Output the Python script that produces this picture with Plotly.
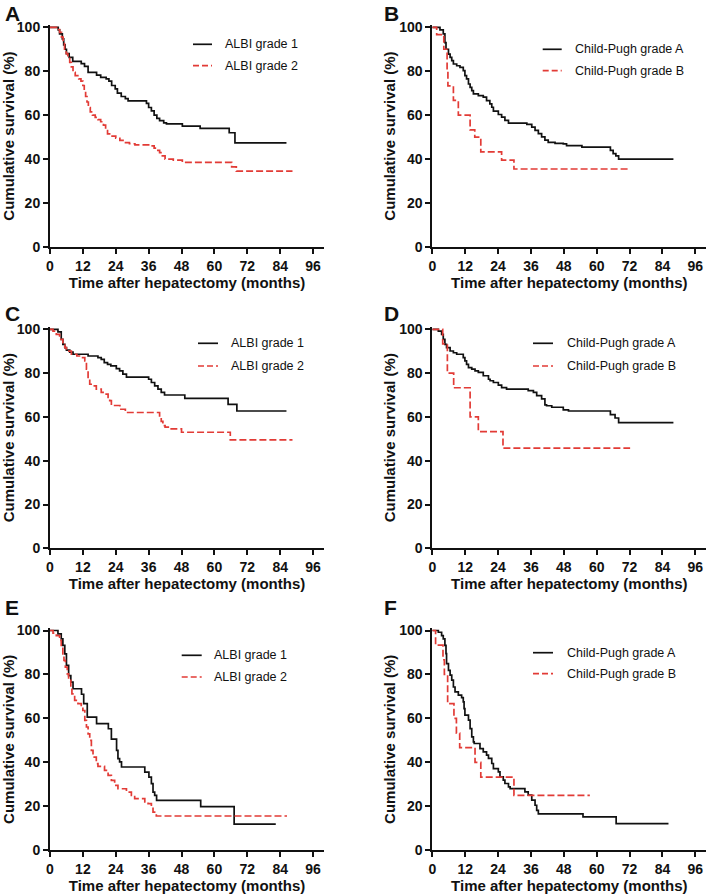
import plotly.graph_objects as go

# ---------------- data (months, cumulative survival %) ----------------
x_ticks = [0, 12, 24, 36, 48, 60, 72, 84, 96]
y_ticks = [0, 20, 40, 60, 80, 100]

albi_labels = ["ALBI grade 1", "ALBI grade 2"]
cp_labels = ["Child-Pugh grade A", "Child-Pugh grade B"]
panel_letters = ["A", "B", "C", "D", "E", "F"]

# Panel A
a_g1_t = [0, 3, 3.5, 4.5, 5, 5.5, 6, 7, 8.3, 11.4, 12.6, 13.9, 17, 18.5, 20.5, 21.5, 22.5, 23.8, 24.6,
          26, 27.5, 28.5, 35.2, 36, 37, 38, 39, 40, 41.5, 42.5, 48.3, 54.8, 65.4, 67.5, 86.3]
a_g1_s = [100, 98.8, 97, 94.7, 92, 90, 88, 86.3, 84.5, 83.5, 82.2, 79.5, 78.2, 77.2, 76.5, 75.5, 73.5, 72,
          70, 68.5, 67.5, 66.5, 65.4, 63.5, 62, 60, 58.5, 57.5, 56.5, 56, 55, 54, 52, 47.4, 47.4]
a_g2_t = [0, 2.5, 3.5, 4.2, 4.8, 5.3, 5.9, 6.5, 7.2, 7.8, 8.4, 9.2, 10.5, 11.3, 12, 12.5, 13, 13.5, 14,
          14.7, 15.5, 16.5, 17.5, 18.5, 19.5, 20.3, 21, 22.3, 24, 25.5, 27, 29, 31, 36, 38, 39, 40, 41,
          42, 45, 48.3, 66.3, 68, 88.5]
a_g2_s = [100, 99, 97.7, 95.5, 93, 90, 88, 86.3, 84, 82, 79.5, 78, 76.5, 75.5, 73.5, 71, 68.5, 66, 63.5,
          61.5, 60, 59, 58, 57, 55.5, 53, 51.5, 50.5, 49.5, 48.5, 47.5, 47, 46.5, 46, 45, 44, 43, 41.5,
          40, 39.5, 38.5, 36.5, 34.5, 34.5]

# Panel B
b_g1_t = [0, 2.8, 4.0, 4.6, 5.0, 5.9, 6.5, 7.1, 7.7, 8.9, 10.1, 11.3, 11.9, 12.5, 13.2, 13.8, 14.4, 15,
          16.8, 18.6, 19.8, 21, 21.7, 22.3, 24.1, 25.3, 26.5, 27.8, 34.5, 36.3, 37.5, 38.7, 39.9, 41.1,
          42.3, 44.8, 47.8, 49, 54.6, 65, 66, 67, 68, 88]
b_g1_s = [100, 98.8, 97, 93, 90, 87.8, 86.3, 84.8, 83.3, 82.5, 81.8, 80.3, 78, 76.5, 74.2, 72.7, 71.2,
          69.7, 68.9, 68.2, 66.6, 65.1, 63.6, 61.8, 60.3, 59.1, 57.6, 56.4, 55.8, 54.6, 53.1, 51.6, 50.1,
          48.6, 47.6, 47.2, 46.9, 46.1, 45.5, 44, 42.5, 41.5, 40, 40]
b_g2_t = [0, 1.6, 4.2, 5.4, 5.7, 7.7, 9.5, 13.8, 15.5, 17.7, 25.3, 29.8, 72.2]
b_g2_s = [100, 96.7, 90, 80, 73.3, 66.7, 60, 53.3, 50, 43.3, 39.5, 35.5, 35.5]

# Panel C
c_g1_t = [0, 2.9, 4.1, 4.7, 5.4, 6.0, 7.2, 8.4, 13.9, 17.5, 18.7, 19.8, 21, 22.2, 24.2, 25.4, 26.6, 27.9,
          36.0, 37, 38.2, 39.4, 40.6, 41.8, 49.2, 65.0, 68.2, 86.3]
c_g1_s = [100, 98.8, 95.4, 93.1, 91.6, 90.5, 89.6, 88.6, 87.8, 87.1, 86.3, 84.8, 84, 83.3, 82, 81, 79.5,
          78.2, 77.2, 75.7, 74.2, 72.7, 71.2, 70, 68.5, 65.7, 62.7, 62.7]
c_g2_t = [0, 1.1, 2.3, 3.5, 4.7, 5.4, 6, 7.8, 9.8, 11.4, 12.7, 13.3, 13.9, 14.5, 15.7, 16.9, 18.7, 20.5,
          21.2, 21.8, 22.4, 25.5, 27.5, 40, 40.6, 41.2, 42, 43.5, 48, 65.8, 88.5]
c_g2_s = [100, 99.2, 97.7, 95.4, 93, 91.6, 90, 88.6, 87.8, 87.1, 85.6, 81.8, 77.2, 74.9, 74.2, 72.7, 71.2,
          70.4, 68.9, 67.4, 65.2, 63.5, 62, 60, 58, 56, 55.3, 54.5, 53, 49.5, 49.5]

# Panel D
d_g1_t = [0, 2.2, 3.4, 4.0, 4.6, 5.2, 6.5, 7.7, 8.9, 11.3, 11.9, 12.5, 13.2, 14.4, 15.6, 16.8, 18.6, 20.5,
          21.1, 22.3, 24.1, 25.3, 27.1, 35, 36.9, 38.1, 39.9, 41.1, 41.7, 43.6, 47.8, 49.7, 65, 66.7, 68, 88]
d_g1_s = [100, 99.2, 97.7, 95.4, 93.1, 91.6, 90.1, 89.3, 88.6, 87.1, 85.6, 84, 82.5, 81.8, 81, 80.3, 78.8,
          77.2, 76.5, 75.7, 74.5, 73.4, 72.7, 72, 71.2, 69.7, 68.2, 65.5, 65.1, 64.4, 63.2, 62.7, 61, 59.5,
          57.4, 57.4]
d_g2_t = [0, 3.8, 5.5, 7.8, 13.8, 16.8, 25.8, 72.2]
d_g2_s = [100, 93.3, 80, 73.3, 60, 53.3, 45.7, 45.7]

# Panel E
e_g1_t = [0, 2.9, 4.1, 4.7, 5.4, 6.0, 6.8, 7.6, 8.4, 11.5, 12.3, 13.6, 17, 21.3, 22.4, 24.3, 24.8, 25.4,
          26.1, 34.6, 36.1, 37, 37.6, 38.2, 38.9, 55, 67.2, 82.4]
e_g1_s = [100, 98.5, 96.2, 93.2, 89.4, 84.1, 79.5, 76.5, 73.5, 71, 66.7, 60.6, 57.6, 55.3, 50.6, 45.5,
          41.7, 40.2, 37.9, 35.6, 33.3, 30.3, 26.5, 25, 22.7, 19.9, 11.9, 11.9]
e_g2_t = [0, 1.1, 2.3, 3.5, 4.1, 4.7, 5.1, 5.6, 6.3, 6.8, 7.6, 8.0, 9.0, 10.2, 11.4, 12.0, 12.7, 13.3,
          13.9, 14.5, 15.1, 15.7, 16.9, 17.5, 19.9, 21.2, 22.4, 23.6, 24.8, 27.9, 29.7, 30.9, 34.6, 35.8,
          37, 37.6, 38.8, 86.5]
e_g2_s = [100, 98.8, 97.7, 95.5, 92.4, 89.4, 86.4, 83.3, 80.3, 77.3, 74.2, 71.2, 68.2, 66.7, 65.2, 63.6,
          59.1, 56.1, 53, 50, 45.5, 42.4, 39.4, 38.2, 36.4, 34.1, 31.8, 29.5, 28, 26.5, 25, 23.5, 22, 21.2,
          19.7, 17.4, 15.6, 15.6]

# Panel F
f_g1_t = [0, 2.2, 3.4, 4.0, 4.6, 5.0, 5.2, 5.9, 6.5, 7.1, 7.7, 8.3, 9.5, 10.7, 11.3, 11.6, 11.9, 13.2,
          13.8, 14.4, 15.0, 15.3, 17.4, 18.6, 19.8, 20.5, 21.7, 22.3, 24.1, 24.7, 25.9, 26.5, 27.8, 28.4,
          33.8, 35, 36.3, 37.5, 38.1, 38.7, 55, 67.1, 86.2]
f_g1_s = [100, 99.2, 97.7, 96.2, 93.2, 89.5, 84.9, 81.9, 79.7, 77.4, 74.3, 72.1, 70.6, 69.5, 67.5, 64.5,
          61.5, 59.2, 55.4, 51.6, 49.3, 48.6, 46.3, 44.8, 43.3, 41.8, 39.5, 37.2, 35.7, 33.4, 31.9, 30.4,
          28.9, 28.1, 26.6, 25.1, 22.8, 20.5, 18.2, 16.6, 15.2, 12.1, 12.1]
f_g2_t = [0, 1.2, 3.9, 4.4, 5.6, 7.9, 8.8, 10, 15.6, 17.7, 29.8, 57.5]
f_g2_s = [100, 93.3, 86.7, 80, 66.7, 60, 53.3, 46.7, 40, 33.3, 25, 25]

panels = [
    (a_g1_t, a_g1_s, a_g2_t, a_g2_s, albi_labels),
    (b_g1_t, b_g1_s, b_g2_t, b_g2_s, cp_labels),
    (c_g1_t, c_g1_s, c_g2_t, c_g2_s, albi_labels),
    (d_g1_t, d_g1_s, d_g2_t, d_g2_s, cp_labels),
    (e_g1_t, e_g1_s, e_g2_t, e_g2_s, albi_labels),
    (f_g1_t, f_g1_s, f_g2_t, f_g2_s, cp_labels),
]

# ---------------- layout geometry (window pixels) ----------------
W, H = 709, 896
col_x = [(50, 324), (432.3, 706.3)]          # x range 0..100
row_y = [(247, 2.197), (548.3, 2.19), (850.3, 2.198)]  # y px of 0, px per %
legend_pos = [  # line x0, line x1, text x, y1, y2
    (193, 212, 223, 44.3, 65.7),
    (542.7, 561.7, 573.3, 49.3, 70.7),
    (198, 218, 229, 343.3, 366),
    (533, 553, 565, 343.3, 366),
    (181.7, 201.7, 212.3, 655.3, 677),
    (533, 553, 565, 652.7, 673.7),
]
letter_pos = [(3, 13), (382, 13), (3, 313), (382, 313), (3, 607), (382, 607)]

BLACK = "#111111"
RED = "#e23b36"
FONT = "Liberation Sans, Arial, sans-serif"


def px(x):
    return x / W


def py(y):
    return 1 - y / H


fig = go.Figure()
layout = dict(width=W, height=H, margin=dict(l=0, r=0, t=0, b=0),
              paper_bgcolor="white", plot_bgcolor="white", showlegend=False,
              font=dict(family=FONT, color=BLACK))
shapes, annotations = [], []

for i, (t1, s1, t2, s2, labels) in enumerate(panels):
    r, c = divmod(i, 2)
    n = "" if i == 0 else str(i + 1)
    xa, ya = "x" + n, "y" + n
    x0, x1 = col_x[c]
    y0px, k = row_y[r]
    ytop = y0px - 101 * k
    fig.add_trace(go.Scatter(x=t1, y=s1, mode="lines", line=dict(color=BLACK, width=1.7, shape="hv"),
                             name=labels[0], xaxis=xa, yaxis=ya))
    fig.add_trace(go.Scatter(x=t2, y=s2, mode="lines",
                             line=dict(color=RED, width=1.7, shape="hv", dash="7px,3px"),
                             name=labels[1], xaxis=xa, yaxis=ya))
    common = dict(showline=True, linecolor=BLACK, linewidth=2, ticks="outside", ticklen=5, tickwidth=2,
                  tickcolor=BLACK, showgrid=False, zeroline=False, automargin=False,
                  tickfont=dict(family=FONT, size=14, color=BLACK, weight="bold"))
    layout["xaxis" + n] = dict(common, domain=[px(x0), px(x1)], range=[0, 100], tickvals=x_ticks,
                               anchor=ya,
                               title=dict(text="Time after hepatectomy (months)", standoff=3,
                                          font=dict(family=FONT, size=15, color=BLACK, weight="bold")))
    layout["yaxis" + n] = dict(common, domain=[py(y0px), py(ytop)], range=[0, 101], tickvals=y_ticks,
                               anchor=xa,
                               title=dict(text="Cumulative survival (%)", standoff=0,
                                          font=dict(family=FONT, size=15, color=BLACK, weight="bold")))
    lx0, lx1, tx, ly1, ly2 = legend_pos[i]
    shapes.append(dict(type="line", xref="paper", yref="paper", x0=px(lx0), x1=px(lx1), y0=py(ly1),
                       y1=py(ly1), line=dict(color=BLACK, width=1.7)))
    shapes.append(dict(type="line", xref="paper", yref="paper", x0=px(lx0), x1=px(lx1), y0=py(ly2),
                       y1=py(ly2), line=dict(color=RED, width=1.7, dash="6px,3px")))
    for lab, ly in zip(labels, (ly1, ly2)):
        annotations.append(dict(text=lab, xref="paper", yref="paper", x=px(tx), y=py(ly), xanchor="left",
                                yanchor="middle", showarrow=False,
                                font=dict(family=FONT, size=12.5, color=BLACK)))
    lxp, lyp = letter_pos[i]
    annotations.append(dict(text=panel_letters[i], xref="paper", yref="paper", x=px(lxp), y=py(lyp),
                            xanchor="left", yanchor="middle", showarrow=False,
                            font=dict(family=FONT, size=21, color=BLACK, weight="bold")))

layout["shapes"] = shapes
layout["annotations"] = annotations
fig.update_layout(**layout)
fig.write_html("out.html", config={"displayModeBar": False},
               post_script="document.body.style.margin='0';document.body.style.overflow='hidden';")
